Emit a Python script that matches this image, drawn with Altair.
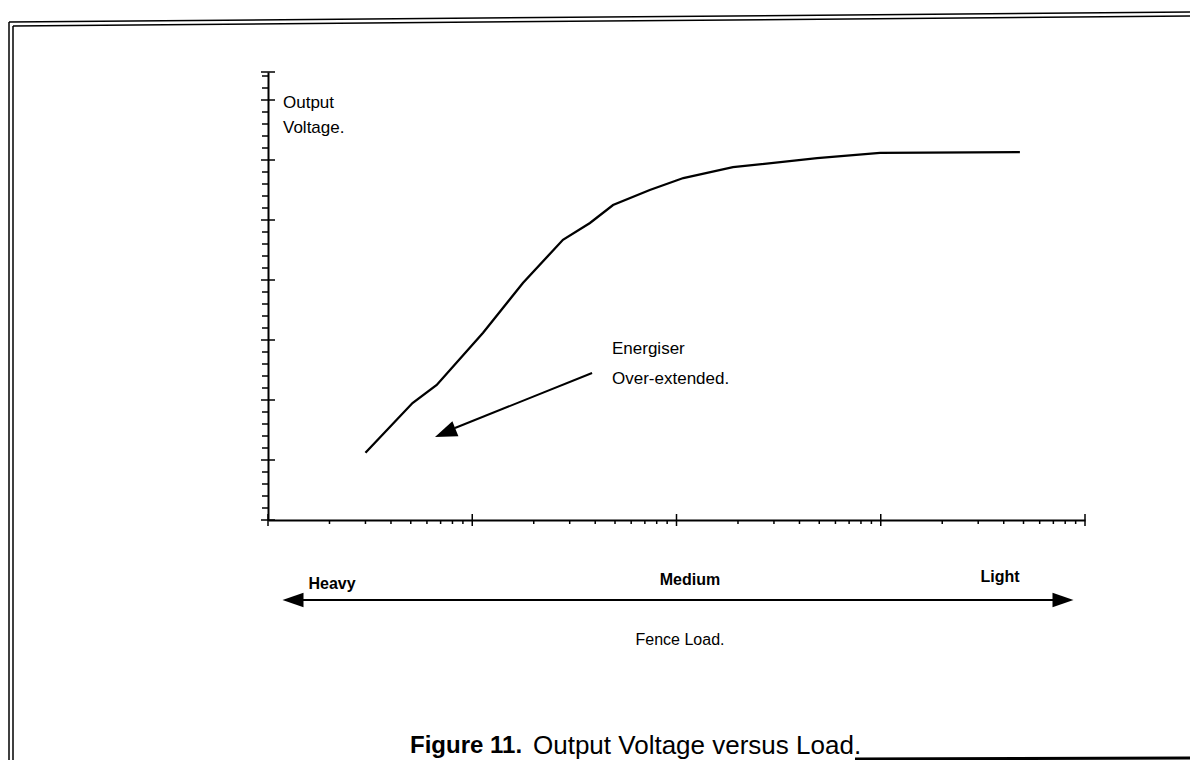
import altair as alt
import pandas as pd

# ---- data ----
load = [3.0, 5.1, 6.7, 11.3, 17.7, 27.8, 37.7, 48.9, 74, 108, 189, 488, 992, 4800]
voltage = [1.12, 1.95, 2.25, 3.12, 3.95, 4.67, 4.95, 5.25, 5.5, 5.7, 5.88, 6.03, 6.12, 6.13]

Y_TOP = 7.4667  # top of the voltage axis
x_major = [1, 10, 100, 1000, 10000]
x_minor = [k * 10 ** d for d in range(4) for k in range(2, 10)]
y_major = [0, 1, 2, 3, 4, 5, 6, 7, Y_TOP]
y_minor = [round(i * 0.2, 1) for i in range(38) if i % 5]

# annotation arrow (data coords)
arrow_x = [38.6, 8.23]
arrow_y = [2.45, 1.533]
head_x = [7.37]
head_y = [1.452]

W, H = 817, 448
OX, OY = 268, 72  # page position of plot origin


def px(v):
    return v - OX


def py(v):
    return v - OY


FONT = "Liberation Sans"
xs = alt.Scale(type="log", domain=[1, 10000], nice=False)
ys = alt.Scale(domain=[0, Y_TOP], nice=False, zero=False)

curve = alt.Chart(pd.DataFrame({"load": load, "v": voltage})).mark_line(
    color="black", strokeWidth=2.3
).encode(
    x=alt.X("load:Q", scale=xs, axis=alt.Axis(labels=False, ticks=False, grid=False, title=None,
                                               domainColor="black", domainWidth=2)),
    y=alt.Y("v:Q", scale=ys, axis=alt.Axis(labels=False, ticks=False, grid=False, title=None,
                                            domainColor="black", domainWidth=2)),
)

xmaj = alt.Chart(pd.DataFrame({"t": x_major})).mark_rule(color="black", strokeWidth=1.5).encode(
    x=alt.X("t:Q", scale=xs, axis=None), y=alt.value(H - 6), y2=alt.value(H + 6))
xmin = alt.Chart(pd.DataFrame({"t": x_minor})).mark_rule(color="black", strokeWidth=1.5).encode(
    x=alt.X("t:Q", scale=xs, axis=None), y=alt.value(H), y2=alt.value(H + 4))
ymaj = alt.Chart(pd.DataFrame({"t": y_major})).mark_rule(color="black", strokeWidth=1.5).encode(
    y=alt.Y("t:Q", scale=ys, axis=None), x=alt.value(-7), x2=alt.value(7))
ymin = alt.Chart(pd.DataFrame({"t": y_minor})).mark_rule(color="black", strokeWidth=1.5).encode(
    y=alt.Y("t:Q", scale=ys, axis=None), x=alt.value(-6), x2=alt.value(0))

arrow_line = alt.Chart(pd.DataFrame({"x": arrow_x, "y": arrow_y})).mark_line(
    color="black", strokeWidth=2).encode(
    x=alt.X("x:Q", scale=xs, axis=None), y=alt.Y("y:Q", scale=ys, axis=None))
arrow_head = alt.Chart(pd.DataFrame({"x": head_x, "y": head_y})).mark_point(
    shape="M0,-1L-0.73,1L0.73,1Z", size=484, filled=True, color="black", opacity=1, angle=248
).encode(x=alt.X("x:Q", scale=xs, axis=None), y=alt.Y("y:Q", scale=ys, axis=None))

one = pd.DataFrame({"a": [0]})


def text(s, x, y, size=15, weight="normal", align="left"):
    return alt.Chart(one).mark_text(
        text=s, font=FONT, fontSize=size, fontWeight=weight, align=align,
        baseline="middle", color="black"
    ).encode(x=alt.value(px(x)), y=alt.value(py(y)))


def rule(x1, y1, x2, y2, w=2):
    return alt.Chart(one).mark_rule(color="black", strokeWidth=w).encode(
        x=alt.value(px(x1)), y=alt.value(py(y1)), x2=alt.value(px(x2)), y2=alt.value(py(y2)))


texts = [
    text("Output", 283, 103, 17),
    text("Voltage.", 283, 128, 17),
    text("Energiser", 612, 349, 17),
    text("Over-extended.", 612, 379, 17),
    text("Heavy", 332, 584, 16, "bold", "center"),
    text("Medium", 690, 580, 16, "bold", "center"),
    text("Light", 1000, 577, 16, "bold", "center"),
    text("Fence Load.", 680, 640, 16, "normal", "center"),
    text("Figure 11.", 410, 746, 24, "bold"),
    text("Output Voltage versus Load.", 533, 746, 26),
]

# horizontal double arrow (load direction)
load_arrow = rule(300, 600, 1056, 600, 2)
heads = alt.Chart(pd.DataFrame({"a": [0, 1]})).mark_point(
    filled=True, color="black", opacity=1, size=440, shape="M0,-1L-0.7,1L0.7,1Z"
).encode(
    x=alt.X("a:Q", scale=alt.Scale(domain=[0, 1], range=[px(293), px(1063)]), axis=None),
    y=alt.value(py(600)),
    angle=alt.Angle("a:Q", scale=alt.Scale(domain=[0, 1], range=[270, 90])),
)

frame = [
    rule(9, 22, 1198, 12, 1.5),
    rule(13, 26, 1198, 16, 1.5),
    rule(9, 22, 9, 768, 1.5),
    rule(13, 26, 13, 768, 1.5),
    rule(855, 759, 1198, 758, 3),
]

chart = alt.layer(
    curve, xmaj, xmin, ymaj, ymin, arrow_line, arrow_head, load_arrow, heads, *texts, *frame
).properties(
    width=W, height=H,
    autosize=alt.AutoSizeParams(type="none"),
    padding={"left": OX - 8, "top": OY - 8, "right": 1182 - (OX - 8) - W, "bottom": 752 - (OY - 8) - H},
    background="white",
).configure_view(stroke=None).resolve_scale(x="independent", y="independent")

chart.save("out.html", embed_options={"renderer": "svg", "actions": False})
